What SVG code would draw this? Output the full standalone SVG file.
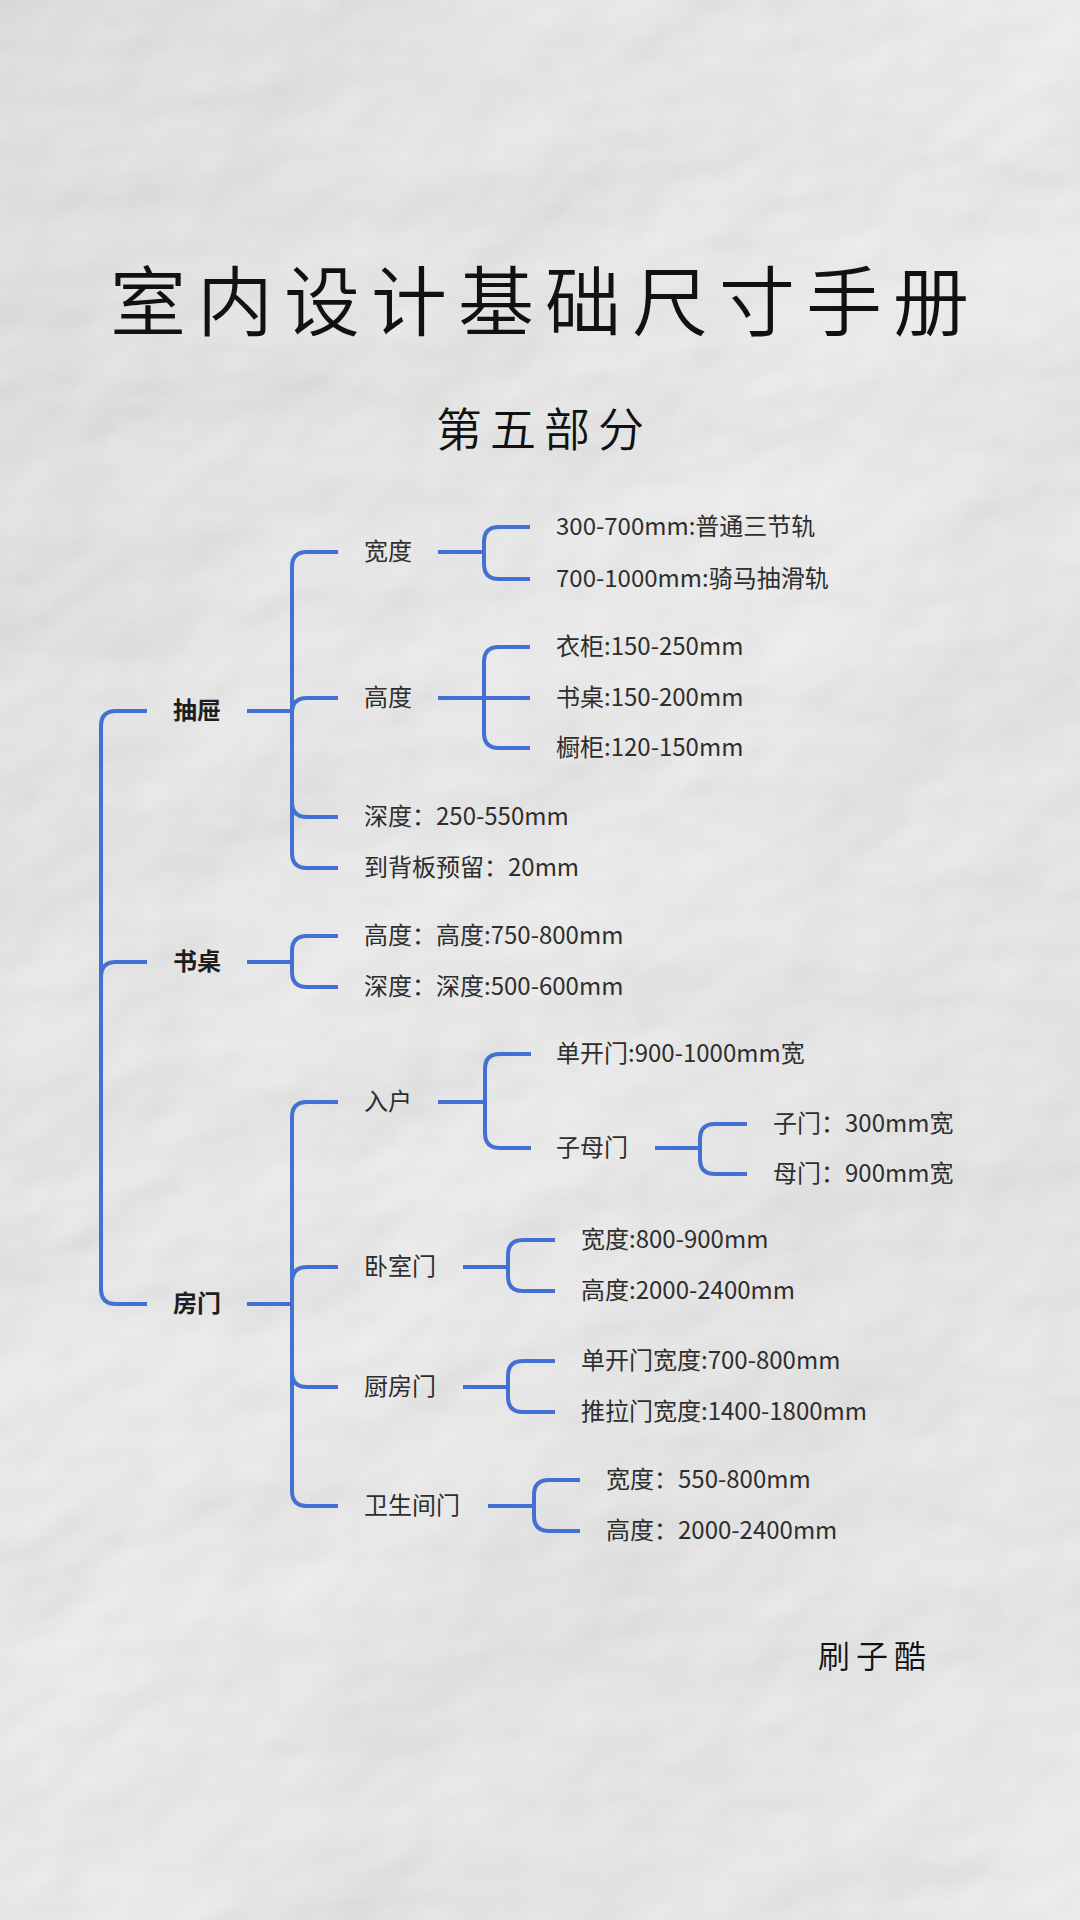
<svg xmlns="http://www.w3.org/2000/svg" width="1080" height="1920" viewBox="0 0 1080 1920">
<defs>
<filter id="paper" x="0" y="0" width="1080" height="1920" filterUnits="userSpaceOnUse">
<feTurbulence type="fractalNoise" baseFrequency="0.0035 0.005" numOctaves="4" seed="5" result="n"/>
<feDiffuseLighting in="n" surfaceScale="10" diffuseConstant="1" lighting-color="#f2f2f2" result="l">
<feDistantLight azimuth="225" elevation="66"/>
</feDiffuseLighting>
</filter>
<linearGradient id="shade" x1="0" y1="0" x2="1" y2="1">
<stop offset="0" stop-color="#000" stop-opacity="0.05"/>
<stop offset="0.5" stop-color="#000" stop-opacity="0"/>
<stop offset="1" stop-color="#fff" stop-opacity="0.1"/>
</linearGradient>
</defs>
<style>
.t{font-family:"Noto Sans CJK SC","Noto Sans",sans-serif;font-size:24px;fill:#2e2e2e;dominant-baseline:central}
.b{font-weight:700;fill:#1e1e1e}
.hand{font-family:"Noto Sans CJK SC",sans-serif;font-weight:350;fill:#111}
.c path{fill:none;stroke:#4470d2;stroke-width:4;stroke-linecap:butt}
</style>
<rect width="1080" height="1920" fill="#e7e7e7"/>
<rect width="1080" height="1920" filter="url(#paper)"/>
<rect width="1080" height="1920" fill="url(#shade)"/>

<g id="title">
<text class="hand" x="545" y="330" font-size="76" letter-spacing="11" text-anchor="middle">室内设计基础尺寸手册</text>
</g>
<g id="subtitle">
<text class="hand" x="544" y="446" font-size="46" letter-spacing="8" text-anchor="middle">第五部分</text>
</g>
<g id="signature">
<text class="hand" x="875" y="1668" font-size="32" letter-spacing="6" text-anchor="middle">刷子酷</text>
</g>

<g id="connectors" class="c">
<path d="M101,1007 V726 Q101,711 116,711 H147"/>
<path d="M101,1007 V977 Q101,962 116,962 H147"/>
<path d="M101,1007 V1289 Q101,1304 116,1304 H147"/>
<path d="M247,711 H292"/>
<path d="M292,711 V567 Q292,552 307,552 H338"/>
<path d="M292,711 V713 Q292,698 307,698 H338"/>
<path d="M292,711 V802 Q292,817 307,817 H338"/>
<path d="M292,711 V853 Q292,868 307,868 H338"/>
<path d="M438,552 H484"/>
<path d="M484,552 V542 Q484,527 499,527 H530"/>
<path d="M484,552 V564 Q484,579 499,579 H530"/>
<path d="M438,698 H530"/>
<path d="M484,698 V662 Q484,647 499,647 H530"/>
<path d="M484,698 V733 Q484,748 499,748 H530"/>
<path d="M247,962 H292"/>
<path d="M292,962 V951 Q292,936 307,936 H338"/>
<path d="M292,962 V972 Q292,987 307,987 H338"/>
<path d="M247,1304 H292"/>
<path d="M292,1304 V1117 Q292,1102 307,1102 H338"/>
<path d="M292,1304 V1282 Q292,1267 307,1267 H338"/>
<path d="M292,1304 V1372 Q292,1387 307,1387 H338"/>
<path d="M292,1304 V1491 Q292,1506 307,1506 H338"/>
<path d="M438,1102 H485"/>
<path d="M485,1102 V1069 Q485,1054 500,1054 H531"/>
<path d="M485,1102 V1133 Q485,1148 500,1148 H531"/>
<path d="M655,1148 H700"/>
<path d="M700,1148 V1139 Q700,1124 715,1124 H747"/>
<path d="M700,1148 V1159 Q700,1174 715,1174 H747"/>
<path d="M463,1267 H508"/>
<path d="M508,1267 V1255 Q508,1240 523,1240 H555"/>
<path d="M508,1267 V1276 Q508,1291 523,1291 H555"/>
<path d="M463,1387 H508"/>
<path d="M508,1387 V1376 Q508,1361 523,1361 H555"/>
<path d="M508,1387 V1397 Q508,1412 523,1412 H555"/>
<path d="M488,1506 H534"/>
<path d="M534,1506 V1495 Q534,1480 549,1480 H580"/>
<path d="M534,1506 V1516 Q534,1531 549,1531 H580"/>
</g>

<g id="nodes" transform="translate(0,-3)">
<g id="n-drawer"><text class="t b" x="173" y="711">抽屉</text></g>
<g id="n-desk"><text class="t b" x="173" y="962">书桌</text></g>
<g id="n-door"><text class="t b" x="173" y="1304">房门</text></g>
<g id="n-drawer-width"><text class="t" x="364" y="552">宽度</text></g>
<g id="n-drawer-w1"><text class="t" x="556" y="527">300-700mm:普通三节轨</text></g>
<g id="n-drawer-w2"><text class="t" x="556" y="579">700-1000mm:骑马抽滑轨</text></g>
<g id="n-drawer-height"><text class="t" x="364" y="698">高度</text></g>
<g id="n-drawer-h1"><text class="t" x="556" y="647">衣柜:150-250mm</text></g>
<g id="n-drawer-h2"><text class="t" x="556" y="698">书桌:150-200mm</text></g>
<g id="n-drawer-h3"><text class="t" x="556" y="748">橱柜:120-150mm</text></g>
<g id="n-drawer-depth"><text class="t" x="364" y="817">深度：250-550mm</text></g>
<g id="n-drawer-back"><text class="t" x="364" y="868">到背板预留：20mm</text></g>
<g id="n-desk-h"><text class="t" x="364" y="936">高度：高度:750-800mm</text></g>
<g id="n-desk-d"><text class="t" x="364" y="987">深度：深度:500-600mm</text></g>
<g id="n-entry"><text class="t" x="364" y="1102">入户</text></g>
<g id="n-entry-single"><text class="t" x="556" y="1054">单开门:900-1000mm宽</text></g>
<g id="n-entry-pair"><text class="t" x="556" y="1148">子母门</text></g>
<g id="n-pair-small"><text class="t" x="773" y="1124">子门：300mm宽</text></g>
<g id="n-pair-big"><text class="t" x="773" y="1174">母门：900mm宽</text></g>
<g id="n-bedroom"><text class="t" x="364" y="1267">卧室门</text></g>
<g id="n-bedroom-w"><text class="t" x="581" y="1240">宽度:800-900mm</text></g>
<g id="n-bedroom-h"><text class="t" x="581" y="1291">高度:2000-2400mm</text></g>
<g id="n-kitchen"><text class="t" x="364" y="1387">厨房门</text></g>
<g id="n-kitchen-1"><text class="t" x="581" y="1361">单开门宽度:700-800mm</text></g>
<g id="n-kitchen-2"><text class="t" x="581" y="1412">推拉门宽度:1400-1800mm</text></g>
<g id="n-bath"><text class="t" x="364" y="1506">卫生间门</text></g>
<g id="n-bath-w"><text class="t" x="606" y="1480">宽度：550-800mm</text></g>
<g id="n-bath-h"><text class="t" x="606" y="1531">高度：2000-2400mm</text></g>
</g>
</svg>
